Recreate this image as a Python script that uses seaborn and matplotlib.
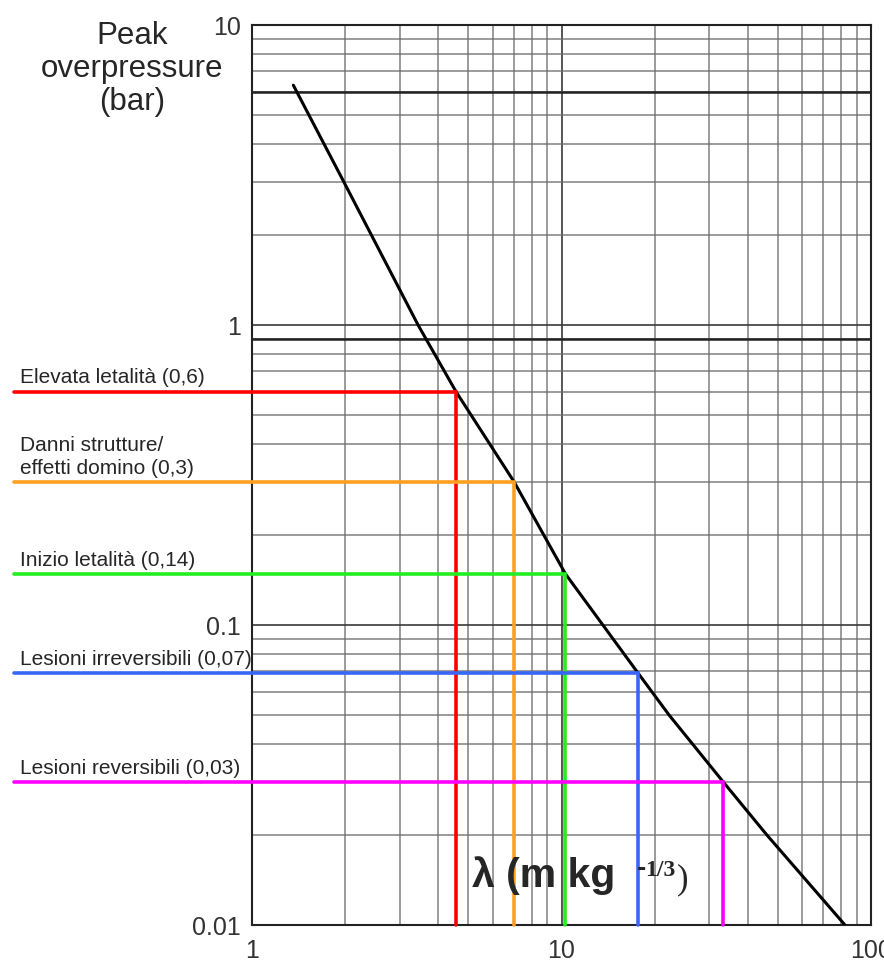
"""Curva sovrappressione di picco vs distanza scalata"""

import matplotlib
matplotlib.use("Agg")
import matplotlib.pyplot as plt
import matplotlib.transforms as mtransforms
import pandas as pd
import seaborn as sns

# curva
curve_lambda = [1.36, 1.98, 3.44, 4.56, 7.03, 10.3, 17.7, 22.3, 33.3, 46.0, 82.4]
curve_pressure = [6.3, 3.0, 1.0, 0.6, 0.3, 0.148, 0.069, 0.05, 0.03, 0.02, 0.01]

# soglie
threshold_labels = [
    "Elevata letalità (0,6)",
    "Danni strutture/\neffetti domino (0,3)",
    "Inizio letalità (0,14)",
    "Lesioni irreversibili (0,07)",
    "Lesioni reversibili (0,03)",
]
threshold_pressure = [0.6, 0.3, 0.148, 0.069, 0.03]
threshold_lambda = [4.56, 7.03, 10.3, 17.7, 33.3]
threshold_colors = ["#ff0000", "#ffa020", "#22ee22", "#3a66f5", "#ff00ff"]

x_ticks = [1, 10, 100]
x_ticklabels = ["1", "10", "100"]
y_ticks = [0.01, 0.1, 1, 10]
y_ticklabels = ["0.01", "0.1", "1", "10"]
heavy_grid_y = [6, 0.9]
ylabel_lines = ["Peak", "overpressure", "(bar)"]

sns.set_style("white")
plt.rcParams["font.family"] = ["Liberation Sans", "DejaVu Sans"]

fig = plt.figure(figsize=(8.84, 9.63), dpi=100)
ax = fig.add_axes([252 / 884, 1 - 925 / 963, 619 / 884, 900 / 963])
ax.set_xscale("log")
ax.set_yscale("log")
ax.set_xlim(1, 100)
ax.set_ylim(0.01, 10)

# griglia carta logaritmica
ax.grid(which="major", color="#3a3a3a", lw=1.2)
ax.grid(which="minor", color="#6a6a6a", lw=1.1, alpha=0.85)
for yy in heavy_grid_y:
    ax.axhline(yy, color="#222222", lw=1.8, zorder=1)

df = pd.DataFrame({"lam": curve_lambda, "p": curve_pressure})
sns.lineplot(data=df, x="lam", y="p", color="black", lw=2.2, ax=ax, zorder=4)
ax.set_xlabel("")
ax.set_ylabel("")

ax.tick_params(which="both", length=0, labelsize=18, labelcolor="#333333")
ax.set_xticks(x_ticks)
ax.set_xticklabels(x_ticklabels)
ax.set_yticks(y_ticks)
ax.set_yticklabels(y_ticklabels)
ax.tick_params(axis="x", pad=10)
ax.tick_params(axis="y", pad=8)
for s in ax.spines.values():
    s.set_visible(True)
    s.set_color("#222222")
    s.set_linewidth(1.5)

# linee delle soglie, partono fuori dagli assi
x_start = 0.17
label_tr = mtransforms.blended_transform_factory(fig.transFigure, ax.transData)
for lab, p, lam, col in zip(threshold_labels, threshold_pressure, threshold_lambda, threshold_colors):
    ax.plot([x_start, lam, lam], [p, p, 0.01], color=col, lw=2.6,
            clip_on=False, zorder=5, solid_joinstyle="miter")
    ax.annotate(lab, xy=(20 / 884, p), xycoords=label_tr, xytext=(0, 3),
                textcoords="offset points", fontsize=15, va="bottom",
                ha="left", linespacing=1.25, annotation_clip=False)

# etichetta asse x dentro il grafico
t1 = ax.text(0.355, 0.042, "λ (m kg", transform=ax.transAxes, fontsize=29.5,
             fontweight="bold", va="baseline", zorder=6)
t2 = ax.annotate("-", xy=(1, 0), xycoords=t1, xytext=(16, 14),
                 textcoords="offset points", fontsize=20, fontweight="bold",
                 va="baseline", zorder=6)
t3 = ax.annotate("1/3", xy=(1, 0), xycoords=t1, xytext=(21.5, 14),
                 textcoords="offset points", fontsize=17, fontweight="bold",
                 family="Liberation Serif", va="baseline", zorder=6)
ax.annotate(")", xy=(1, 0), xycoords=t3, xytext=(1, -11),
            textcoords="offset points", fontsize=25,
            family="Liberation Serif", va="bottom", zorder=6)

# titolo asse y, una riga alla volta
for i, line in enumerate(ylabel_lines):
    fig.text(132 / 884, 1 - (36 + 33 * i) / 963, line, fontsize=22.5,
             ha="center", va="center")

fig.savefig("out.png", dpi=100)
